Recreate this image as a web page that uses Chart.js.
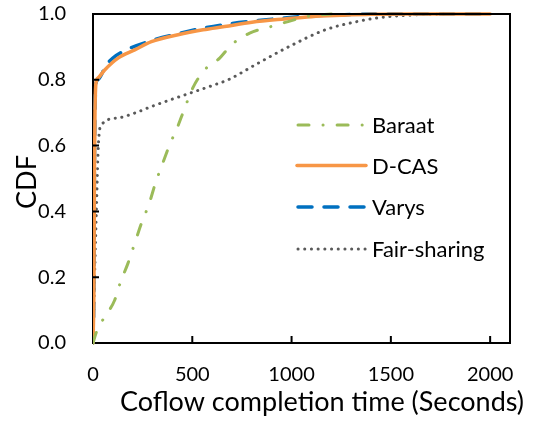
<!DOCTYPE html>
<html>
<head>
<meta charset="utf-8">
<script src="https://cdn.jsdelivr.net/npm/chart.js@4"></script>
<style>
  html, body { margin: 0; padding: 0; background: #fff; }
  #wrap { width: 537px; height: 422px; }
</style>
</head>
<body>
<div id="wrap"><canvas id="c" width="537" height="422"></canvas></div>
<script>
// ---- data ----
const xTicks = [0, 500, 1000, 1500, 2000];
const yTicks = [0, 0.2, 0.4, 0.6, 0.8, 1.0];
const seriesNames = ['Baraat', 'D-CAS', 'Varys', 'Fair-sharing'];

const baraatX = [0, 17, 50, 109, 139, 176, 210, 244, 282, 314, 349, 386, 428, 462, 504, 562, 638, 697, 789, 898, 1000, 1100, 1200];
const baraatY = [0, 0.033, 0.071, 0.13, 0.186, 0.242, 0.303, 0.364, 0.422, 0.485, 0.543, 0.602, 0.66, 0.714, 0.777, 0.83, 0.866, 0.906, 0.942, 0.962, 0.98, 0.995, 1.0];

const dcasX = [0, 5, 7, 10, 15, 25, 59, 126, 210, 294, 428, 554, 663, 800, 965, 1100, 1250, 1400, 1600, 2000];
const dcasY = [0, 0.2, 0.5, 0.7, 0.79, 0.805, 0.83, 0.866, 0.891, 0.916, 0.937, 0.952, 0.962, 0.975, 0.985, 0.992, 0.996, 0.999, 1.0, 1.0];

const varysX = [0, 5, 7, 10, 15, 25, 67, 100, 168, 294, 428, 554, 688, 831, 965, 1108, 1242, 1400, 2000];
const varysY = [0, 0.2, 0.5, 0.7, 0.79, 0.80, 0.845, 0.866, 0.891, 0.919, 0.94, 0.957, 0.97, 0.98, 0.988, 0.995, 0.997, 1.0, 1.0];

const fairX = [0, 8, 17, 27, 42, 125, 210, 300, 462, 613, 680, 830, 1000, 1170, 1330, 1430, 1580, 1780];
const fairY = [0, 0.2, 0.4, 0.6, 0.663, 0.684, 0.699, 0.72, 0.754, 0.785, 0.80, 0.85, 0.905, 0.952, 0.977, 0.988, 0.996, 1.0];

const xTitle = 'Coflow completion time (Seconds)';
const yTitle = 'CDF';

// ---- build ----
function pts(xs, ys) { return xs.map((x, i) => ({ x: x, y: ys[i] })); }

Chart.defaults.font.family = 'Lato';

const AREA = { left: 93, right: 510, top: 14, bottom: 343 };

const frame = {
  id: 'frame',
  afterDraw(chart) {
    const ctx = chart.ctx, a = chart.chartArea;
    const xs = chart.scales.x, ys = chart.scales.y;
    ctx.save();
    ctx.strokeStyle = '#000';
    ctx.lineWidth = 2;
    ctx.beginPath();
    ctx.moveTo(a.left - 1, a.top);
    ctx.lineTo(a.right, a.top);
    ctx.lineTo(a.right, a.bottom + 1);
    ctx.stroke();
    // inward tick marks
    ctx.beginPath();
    xTicks.forEach(v => {
      if (v === 0) return;
      const px = xs.getPixelForValue(v);
      ctx.moveTo(px, a.bottom);
      ctx.lineTo(px, a.bottom - 7);
    });
    yTicks.forEach(v => {
      if (v === 0 || v === 1) return;
      const py = ys.getPixelForValue(v);
      ctx.moveTo(a.left, py);
      ctx.lineTo(a.left + 6, py);
    });
    ctx.stroke();

    // axis titles
    ctx.fillStyle = '#000';
    ctx.font = '27px Lato';
    ctx.textAlign = 'center';
    ctx.textBaseline = 'middle';
    ctx.fillText(xTitle, 322, 402);
    ctx.save();
    ctx.translate(27, 182);
    ctx.rotate(-Math.PI / 2);
    ctx.fillText(yTitle, 0, 0);
    ctx.restore();

    // legend inside the plot
    const rows = [125, 165.5, 207, 249];
    chart.data.datasets.forEach((ds, i) => {
      const y = rows[i];
      ctx.save();
      ctx.strokeStyle = ds.borderColor;
      ctx.lineWidth = ds.borderWidth;
      ctx.lineCap = ds.borderCapStyle || 'butt';
      ctx.setLineDash(ds.borderDash || []);
      ctx.beginPath();
      ctx.moveTo(ds.legendStart || 296, y);
      ctx.lineTo(366, y);
      ctx.stroke();
      ctx.restore();
      ctx.fillStyle = '#000';
      ctx.font = '22px Lato';
      ctx.textAlign = 'left';
      ctx.textBaseline = 'middle';
      ctx.fillText(ds.label, 372, y + 1);
    });
    ctx.restore();
  }
};

new Chart(document.getElementById('c'), {
  type: 'line',
  data: {
    datasets: [
      { label: seriesNames[0], data: pts(baraatX, baraatY), borderColor: '#9BBB59', borderWidth: 3,
        borderDash: [11, 14, 0.1, 14], borderCapStyle: 'round', legendStart: 298 },
      { label: seriesNames[1], data: pts(dcasX, dcasY), borderColor: '#F79646', borderWidth: 3.5,
        borderCapStyle: 'round', legendStart: 297 },
      { label: seriesNames[2], data: pts(varysX, varysY), borderColor: '#0070C0', borderWidth: 3.5,
        borderDash: [14, 12], borderCapStyle: 'round', legendStart: 298 },
      { label: seriesNames[3], data: pts(fairX, fairY), borderColor: '#595959', borderWidth: 3,
        borderDash: [0.1, 6.6], borderCapStyle: 'round', legendStart: 298 }
    ]
  },
  options: {
    responsive: false,
    animation: false,
    events: [],
    layout: { padding: { left: 0, right: 537 - AREA.right, top: AREA.top, bottom: 0 } },
    elements: {
      point: { radius: 0 },
      line: { cubicInterpolationMode: 'monotone', fill: false }
    },
    datasets: { line: { clip: { left: 0, top: 4, right: 4, bottom: 4 } } },
    plugins: { legend: { display: false }, tooltip: { enabled: false } },
    scales: {
      x: {
        type: 'linear', min: 0, max: 2100,
        grid: { display: false, drawTicks: false },
        border: { display: true, color: '#000', width: 2 },
        ticks: { stepSize: 500, includeBounds: false, color: '#000', font: { size: 20 }, padding: 20,
                 maxRotation: 0, callback: v => String(v) },
        afterBuildTicks(s) { s.ticks = xTicks.map(v => ({ value: v })); },
        afterFit(s) { s.height = 422 - AREA.bottom; s.paddingLeft = 0; s.paddingRight = 0; }
      },
      y: {
        type: 'linear', min: 0, max: 1,
        grid: { display: false, drawTicks: false },
        border: { display: true, color: '#000', width: 2 },
        ticks: { stepSize: 0.2, color: '#000', font: { size: 20 }, padding: 27,
                 callback: v => Number(v).toFixed(1) },
        afterBuildTicks(s) { s.ticks = yTicks.map(v => ({ value: v })); },
        afterFit(s) { s.width = AREA.left; s.paddingTop = 0; s.paddingBottom = 0; }
      }
    }
  },
  plugins: [frame]
});
</script>
</body>
</html>
